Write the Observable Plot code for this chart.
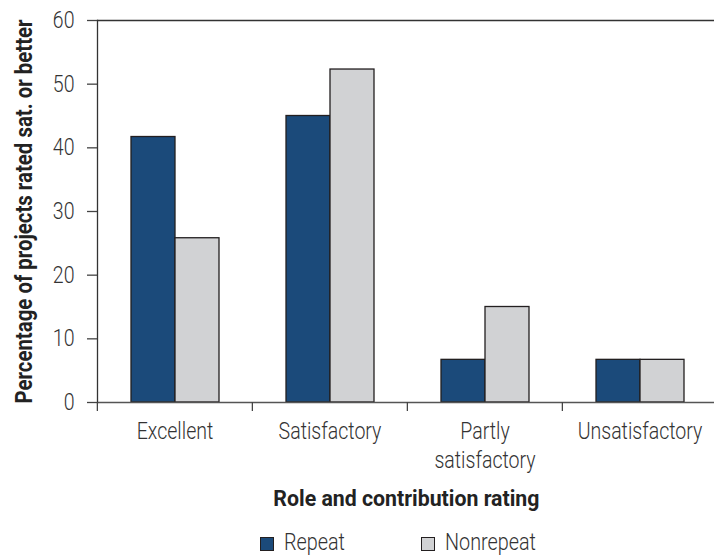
<!DOCTYPE html>
<html>
<head>
<meta charset="utf-8">
<script src="https://cdn.jsdelivr.net/npm/d3@7"></script>
<script src="https://cdn.jsdelivr.net/npm/@observablehq/plot@0.6"></script>
<style>
  html, body { margin: 0; padding: 0; background: #fff; }
  #wrap { position: relative; width: 714px; height: 556px; overflow: hidden;
          font-family: Roboto, "Liberation Sans", sans-serif; color: #333; }
  #title { position: absolute; left: 96px; width: 621px; top: 488px; text-align: center;
           font-weight: bold; font-size: 21.5px; line-height: 1; color: #222; }
  #title span { display: inline-block; transform: scaleX(0.99); transform-origin: center; }
  .item { position: absolute; top: 531px; height: 24px; font-size: 23px; line-height: 1; font-weight: 300; }
  .item .lab { position: absolute; left: 24px; top: 0; white-space: nowrap; display: inline-block; transform: scaleX(0.86); transform-origin: left; }
  .sw { position: absolute; left: 0; top: 6px; width: 14px; height: 14px; box-sizing: border-box; border: 1.3px solid #231f20; }
</style>
</head>
<body>
<div id="wrap"></div>
<script>
const categories = ["Excellent", "Satisfactory", "Partly satisfactory", "Unsatisfactory"];
const categoryLabels = ["Excellent", "Satisfactory", "Partly\nsatisfactory", "Unsatisfactory"];
const series = ["Repeat", "Nonrepeat"];
const repeatValues = [41.7, 45.0, 6.7, 6.7];
const nonrepeatValues = [25.8, 52.3, 15.0, 6.7];
const yTicks = [0, 10, 20, 30, 40, 50, 60];
const yLabel = "Percentage of projects rated sat. or better";
const xTitle = "Role and contribution rating";
const colors = ["#1b4a7a", "#d1d2d4"];
const legendLeft = [260, 421];

const data = categories.flatMap((c, i) => [
  {category: c, series: series[0], value: repeatValues[i]},
  {category: c, series: series[1], value: nonrepeatValues[i]}
]);

const W = 714, ML = 96, MR = -3;
const bw = (W - ML - MR) / categories.length;

const plot = Plot.plot({
  width: W, height: 480,
  marginLeft: ML, marginRight: MR, marginTop: 20, marginBottom: 78,
  style: {fontFamily: 'Roboto, "Liberation Sans", sans-serif', fontSize: "23px", fontWeight: 300, color: "#333", background: "white", overflow: "visible"},
  fx: {domain: categories, padding: 0, label: null},
  x: {domain: series, paddingInner: 0, paddingOuter: 0.745, axis: null},
  y: {domain: [0, 60]},
  color: {domain: series, range: colors},
  marks: [
    Plot.barY(data, {fx: "category", x: "series", y: "value", fill: "series", stroke: "#231f20", strokeWidth: 1.3}),
    Plot.ruleY([0], {stroke: "#555", strokeWidth: 1.3}),
    Plot.ruleY([60], {stroke: "#333", strokeWidth: 1.3}),
    Plot.frame({anchor: "left", facetAnchor: "left", stroke: "#333", strokeWidth: 1.3}),
    Plot.axisY({ticks: yTicks, tickSize: 10, tickPadding: 13, label: null, stroke: "#444", strokeWidth: 1.3, fontSize: 23, fill: "#333"}),
    Plot.axisFx({anchor: "bottom", tickSize: 0, tickPadding: 16, label: null, lineHeight: 1.25,
                 tickFormat: d => categoryLabels[categories.indexOf(d)], fontSize: 23, fill: "#333"}),
    Plot.axisFx({anchor: "bottom", tickSize: 9, tickFormat: () => "", label: null, dx: -bw / 2, stroke: "#444", strokeWidth: 1.3}),
    Plot.text([{fx: categories[0], t: yLabel}], {fx: "fx", text: "t", frameAnchor: "left", textAnchor: "middle", rotate: -90, dx: -73,
               fontWeight: "bold", fontSize: 24, fill: "#222"})
  ]
});

const wrap = document.getElementById("wrap");
wrap.appendChild(plot);

// condense glyphs horizontally to mimic the reference's condensed typeface
plot.querySelectorAll("text").forEach(t => {
  const bold = t.getAttribute("font-weight") === "bold";
  const f = bold ? 0.98 : 0.85;
  const spans = t.querySelectorAll("tspan");
  const targets = spans.length ? Array.from(spans) : [t];
  targets.forEach(el => {
    const L = el.getComputedTextLength();
    if (L > 0) {
      el.setAttribute("textLength", (L * f).toFixed(2));
      el.setAttribute("lengthAdjust", "spacingAndGlyphs");
    }
  });
});

const title = document.createElement("div");
title.id = "title";
const ts = document.createElement("span");
ts.textContent = xTitle;
title.appendChild(ts);
wrap.appendChild(title);

series.forEach((s, i) => {
  const item = document.createElement("div");
  item.className = "item";
  item.style.left = legendLeft[i] + "px";
  const sw = document.createElement("span");
  sw.className = "sw";
  sw.style.background = colors[i];
  const lab = document.createElement("span");
  lab.className = "lab";
  lab.textContent = s;
  item.appendChild(sw);
  item.appendChild(lab);
  wrap.appendChild(item);
});
</script>
</body>
</html>
